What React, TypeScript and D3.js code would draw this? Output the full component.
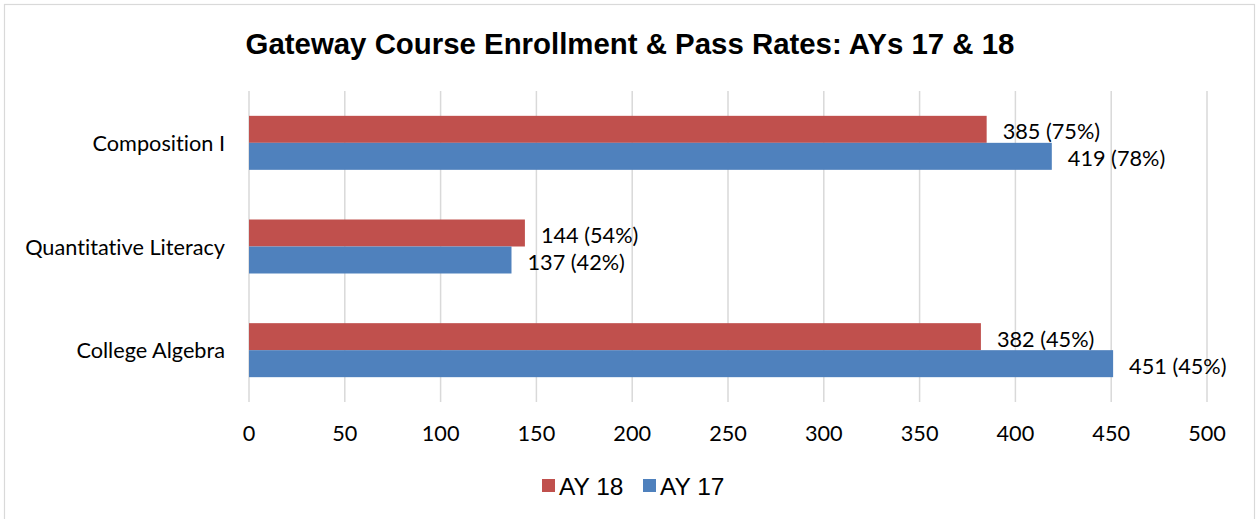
import React from "react";
import * as d3 from "d3";

const categories = ["Composition I", "Quantitative Literacy", "College Algebra"];
const ay18Values = [385, 144, 382];
const ay18Rates = [75, 54, 45];
const ay17Values = [419, 137, 451];
const ay17Rates = [78, 42, 45];
const xTicks = [0, 50, 100, 150, 200, 250, 300, 350, 400, 450, 500];
const seriesNames = ["AY 18", "AY 17"];
const colors = ["#C0504D", "#4F81BD"];
const title = "Gateway Course Enrollment & Pass Rates: AYs 17 & 18";

const W = 1257;
const H = 519;

export default function App() {
  const x = d3.scaleLinear().domain([0, 500]).range([249, 1207]);
  const y = d3.scaleBand().domain(categories).range([91, 402]).paddingInner(0).paddingOuter(0);
  const barH = 27;
  const series = [
    { name: seriesNames[0], values: ay18Values, rates: ay18Rates, color: colors[0], off: -barH },
    { name: seriesNames[1], values: ay17Values, rates: ay17Rates, color: colors[1], off: 0 },
  ];
  const labelFont = "Lato, 'Open Sans', sans-serif";
  const labelSize = 21.7;
  const noLig = { fontVariantLigatures: "none" } as React.CSSProperties;
  return (
    <svg
      width={W}
      height={H}
      style={{ position: "absolute", left: 0, top: 0, display: "block" }}
    >
      <rect x={0} y={0} width={W} height={H} fill="#fff" />
      <rect x={4.5} y={4.5} width={1250} height={H + 10} fill="#fff" stroke="#d9d9d9" strokeWidth={1.2} />
      <text
        x={630}
        y={43}
        textAnchor="middle"
        dominantBaseline="central"
        fontFamily="'Liberation Sans', Arial, sans-serif"
        fontWeight="bold"
        fontSize={29.4}
        fill="#000"
      >
        {title}
      </text>
      {xTicks.map((t) => (
        <line key={"g" + t} x1={x(t)} x2={x(t)} y1={91} y2={402} stroke="#d9d9d9" strokeWidth={1.5} />
      ))}
      {categories.map((c, i) => {
        const cy = (y(c) as number) + y.bandwidth() / 2;
        return (
          <g key={c}>
            {series.map((s) => (
              <rect
                key={s.name}
                x={x(0)}
                y={cy + s.off}
                width={x(s.values[i]) - x(0)}
                height={barH}
                fill={s.color}
              />
            ))}
            <text
              x={225}
              y={cy}
              textAnchor="end"
              dominantBaseline="central"
              fontFamily={labelFont}
              fontSize={labelSize}
              style={noLig}
              fill="#000"
            >
              {c}
            </text>
            {series.map((s) => (
              <text
                key={"l" + s.name}
                x={x(s.values[i]) + 16}
                y={cy + s.off + barH / 2 + 2}
                dominantBaseline="central"
                fontFamily={labelFont}
                fontSize={labelSize}
                fill="#000"
              >
                {`${s.values[i]} (${s.rates[i]}%)`}
              </text>
            ))}
          </g>
        );
      })}
      {xTicks.map((t) => (
        <text
          key={"t" + t}
          x={x(t)}
          y={433}
          textAnchor="middle"
          dominantBaseline="central"
          fontFamily={labelFont}
          fontSize={labelSize}
          fill="#000"
        >
          {t}
        </text>
      ))}
      <rect x={542} y={479} width={13} height={13} fill={colors[0]} />
      <text x={559} y={486} dominantBaseline="central" fontFamily="'Liberation Sans', Arial, sans-serif" fontSize={24.5} fill="#000">
        {seriesNames[0]}
      </text>
      <rect x={643} y={479} width={13} height={13} fill={colors[1]} />
      <text x={660} y={486} dominantBaseline="central" fontFamily="'Liberation Sans', Arial, sans-serif" fontSize={24.5} fill="#000">
        {seriesNames[1]}
      </text>
    </svg>
  );
}
